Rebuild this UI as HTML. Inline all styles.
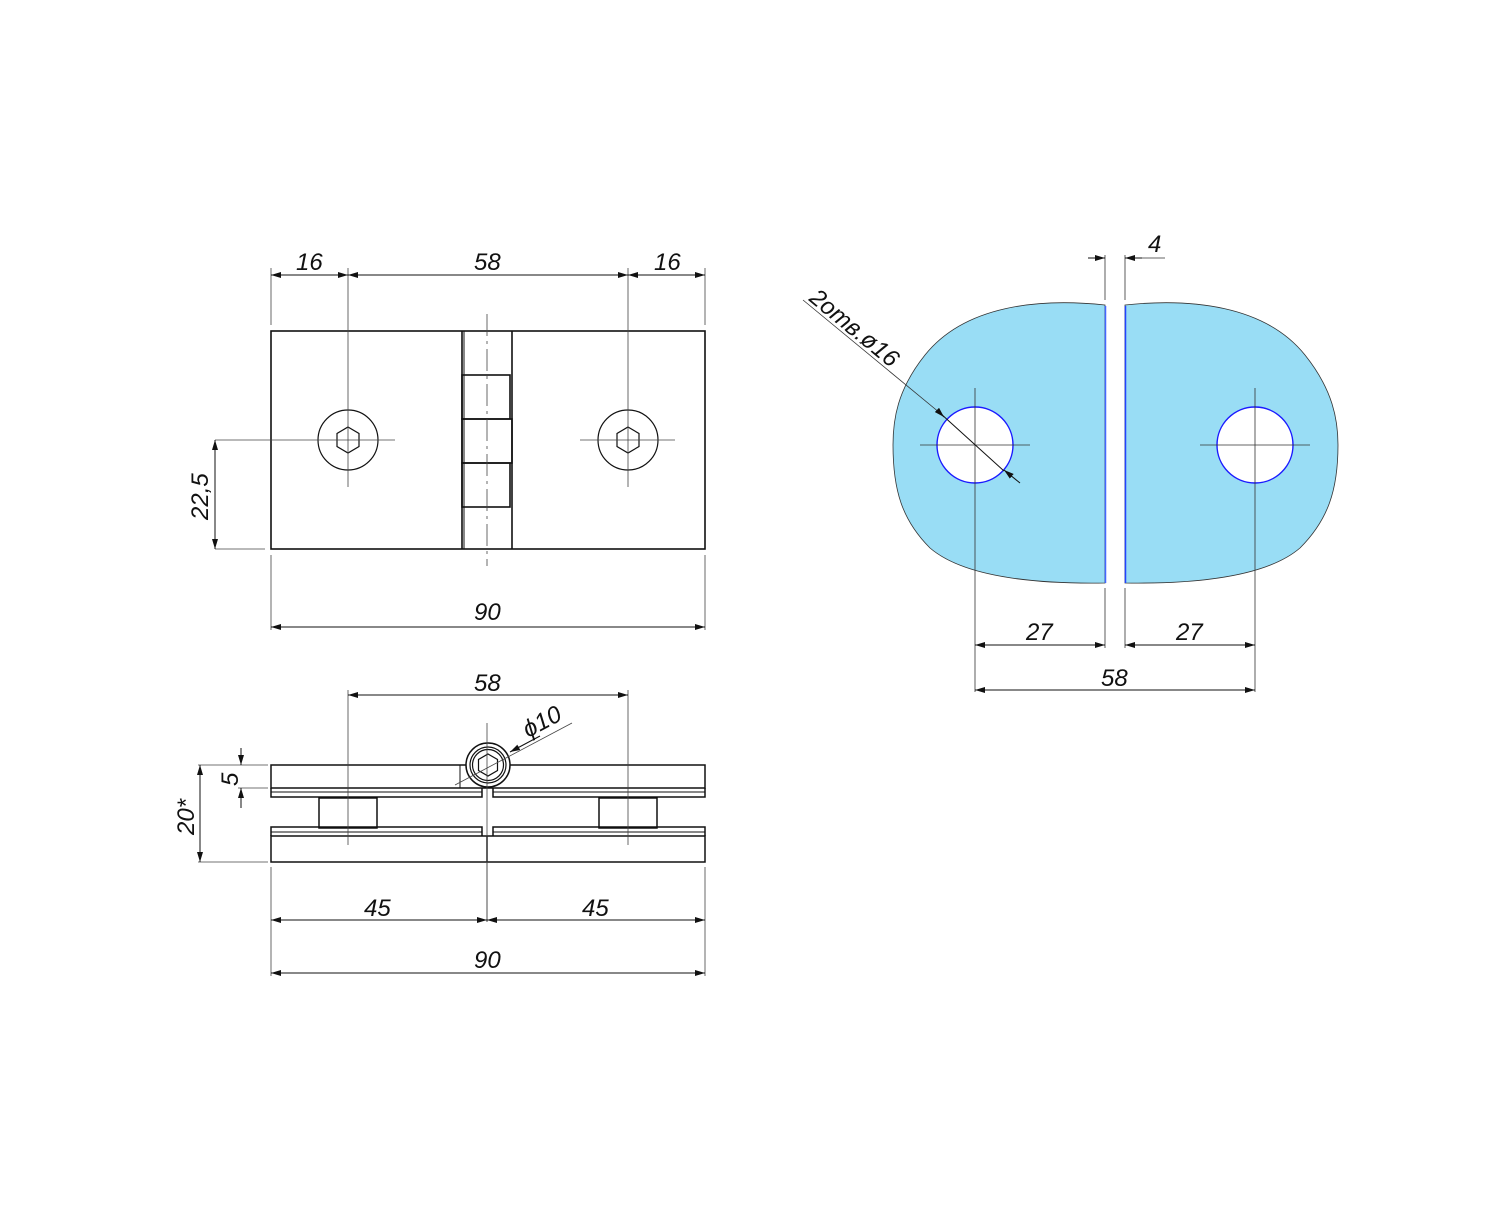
<!DOCTYPE html>
<html><head><meta charset="utf-8"><style>
html,body{margin:0;padding:0;background:#fff;}
svg text{font-family:"Liberation Sans","DejaVu Sans",sans-serif;font-style:italic;font-size:24px;fill:#111;}
</style></head><body>
<svg width="1500" height="1200" viewBox="0 0 1500 1200" xmlns="http://www.w3.org/2000/svg">
<defs>
<marker id="a" viewBox="0 0 10 6" refX="10" refY="3" markerWidth="10" markerHeight="6" orient="auto-start-reverse" markerUnits="userSpaceOnUse"><path d="M0,0 L10,3 L0,6 Z" fill="#111"/></marker>
</defs>
<g fill="none" stroke="#111" stroke-width="1">
<!-- TOP VIEW -->
<g stroke-width="1.6">
<rect x="271" y="331" width="434" height="218"/>
<line x1="462" y1="331" x2="462" y2="549"/>
<line x1="464" y1="331" x2="464" y2="549" stroke-width="1"/>
<line x1="512" y1="331" x2="512" y2="549"/>
<rect x="462" y="375" width="48" height="44"/>
<rect x="462" y="419" width="50" height="44"/>
<rect x="462" y="463" width="48" height="44"/>
<circle cx="348" cy="440" r="30" stroke-width="1.2"/>
<circle cx="628" cy="440" r="30" stroke-width="1.2"/>
<polygon points="348,427 359,433.5 359,446.5 348,453 337,446.5 337,433.5" stroke-width="1.2"/>
<polygon points="628,427 639,433.5 639,446.5 628,453 617,446.5 617,433.5" stroke-width="1.2"/>
</g>
<g stroke="#444" stroke-width="0.8">
<line x1="487" y1="314" x2="487" y2="566" stroke-dasharray="22,5,3,5"/>
<line x1="215" y1="440" x2="395" y2="440"/>
<line x1="580" y1="440" x2="675" y2="440"/>
<line x1="348" y1="268" x2="348" y2="487"/>
<line x1="628" y1="268" x2="628" y2="487"/>
<line x1="271" y1="268" x2="271" y2="325"/>
<line x1="705" y1="268" x2="705" y2="325"/>
<line x1="271" y1="555" x2="271" y2="630"/>
<line x1="705" y1="555" x2="705" y2="630"/>
<line x1="215" y1="549" x2="265" y2="549"/>
</g>
<line x1="271" y1="275" x2="348" y2="275" marker-start="url(#a)" marker-end="url(#a)"/>
<line x1="348" y1="275" x2="628" y2="275" marker-start="url(#a)" marker-end="url(#a)"/>
<line x1="628" y1="275" x2="705" y2="275" marker-start="url(#a)" marker-end="url(#a)"/>
<line x1="271" y1="627" x2="705" y2="627" marker-start="url(#a)" marker-end="url(#a)"/>
<line x1="215" y1="440" x2="215" y2="549" marker-start="url(#a)" marker-end="url(#a)"/>

<!-- SIDE VIEW -->
<g stroke-width="1.5">
<rect x="271" y="765" width="434" height="23"/>
<path d="M271,788 V797 H482 V788 M493,788 V797 H705 V788"/>
<line x1="271" y1="792" x2="482" y2="792" stroke-width="1"/>
<line x1="493" y1="792" x2="705" y2="792" stroke-width="1"/>
<rect x="319" y="798" width="58" height="30"/>
<rect x="599" y="798" width="58" height="30"/>
<path d="M271,836 V827 H482 V836 M493,836 V827 H705 V836"/>
<line x1="271" y1="832" x2="482" y2="832" stroke-width="1"/>
<line x1="493" y1="832" x2="705" y2="832" stroke-width="1"/>
<rect x="271" y="836" width="434" height="26"/>
<line x1="487" y1="836" x2="487" y2="862"/>
<line x1="460" y1="765" x2="460" y2="788" stroke-width="1"/>
<circle cx="488" cy="765" r="22" fill="#fff"/>
<circle cx="488" cy="765" r="18" stroke-width="1.2"/>
<circle cx="488" cy="765" r="15.5" stroke-width="1.2"/>
<polygon points="488,754 497.5,759.5 497.5,770.5 488,776 478.5,770.5 478.5,759.5" stroke-width="1.2"/>
</g>
<g stroke="#444" stroke-width="0.8">
<line x1="487" y1="723" x2="487" y2="922"/>
<line x1="348" y1="690" x2="348" y2="845"/>
<line x1="628" y1="690" x2="628" y2="845"/>
<line x1="238" y1="765" x2="268" y2="765"/>
<line x1="238" y1="788" x2="268" y2="788"/>
<line x1="198" y1="862" x2="268" y2="862"/>
<line x1="198" y1="765" x2="238" y2="765"/>
<line x1="271" y1="867" x2="271" y2="976"/>
<line x1="705" y1="867" x2="705" y2="976"/>
<line x1="487" y1="862" x2="487" y2="922"/>
<line x1="455" y1="785" x2="572" y2="723"/>
</g>
<line x1="348" y1="695" x2="628" y2="695" marker-start="url(#a)" marker-end="url(#a)"/>
<line x1="241" y1="748" x2="241" y2="765" marker-end="url(#a)"/>
<line x1="241" y1="808" x2="241" y2="788" marker-end="url(#a)"/>
<line x1="200" y1="765" x2="200" y2="862" marker-start="url(#a)" marker-end="url(#a)"/>
<line x1="271" y1="920" x2="487" y2="920" marker-start="url(#a)" marker-end="url(#a)"/>
<line x1="487" y1="920" x2="705" y2="920" marker-start="url(#a)" marker-end="url(#a)"/>
<line x1="271" y1="973" x2="705" y2="973" marker-start="url(#a)" marker-end="url(#a)"/>
<line x1="540" y1="736" x2="510" y2="752" marker-end="url(#a)"/>

<!-- RIGHT VIEW -->
<path d="M1105,305 C1040,298 965,305 925,355 C897,390 893,420 893,445 C893,490 902,520 930,548 C965,578 1040,584 1105,583 Z" fill="#99ddf5" stroke="#333" stroke-width="0.8"/>
<path d="M1125,305 C1190,298 1265,305 1305,355 C1333,390 1338,420 1338,445 C1338,490 1328,520 1300,548 C1265,578 1190,584 1125,583 Z" fill="#99ddf5" stroke="#333" stroke-width="0.8"/>
<line x1="1105.5" y1="306" x2="1105.5" y2="583" stroke="#4466ff" stroke-width="1.5"/>
<line x1="1125.5" y1="306" x2="1125.5" y2="583" stroke="#2244ff" stroke-width="1.5"/>
<circle cx="975" cy="445" r="38" fill="#fff" stroke="#1a1aff" stroke-width="1.4"/>
<circle cx="1255" cy="445" r="38" fill="#fff" stroke="#1a1aff" stroke-width="1.4"/>
<g stroke="#333" stroke-width="0.8">
<line x1="920" y1="445" x2="1030" y2="445"/>
<line x1="1200" y1="445" x2="1310" y2="445"/>
<line x1="975" y1="388" x2="975" y2="692"/>
<line x1="1255" y1="388" x2="1255" y2="692"/>
<line x1="1105" y1="255" x2="1105" y2="300"/>
<line x1="1125" y1="255" x2="1125" y2="300"/>
<line x1="1105" y1="588" x2="1105" y2="648"/>
<line x1="1125" y1="588" x2="1125" y2="648"/>
<line x1="803" y1="300" x2="940" y2="413"/>
<line x1="1125" y1="258" x2="1165" y2="258"/>
</g>
<line x1="940" y1="413" x2="944" y2="417" marker-end="url(#a)"/>
<line x1="940" y1="413" x2="1004" y2="471"/>
<line x1="1020" y1="483" x2="1004" y2="470" marker-end="url(#a)"/>
<line x1="1088" y1="258" x2="1105" y2="258" marker-end="url(#a)"/>
<line x1="1142" y1="258" x2="1125" y2="258" marker-end="url(#a)"/>
<line x1="975" y1="645" x2="1105" y2="645" marker-start="url(#a)" marker-end="url(#a)"/>
<line x1="1125" y1="645" x2="1255" y2="645" marker-start="url(#a)" marker-end="url(#a)"/>
<line x1="975" y1="690" x2="1255" y2="690" marker-start="url(#a)" marker-end="url(#a)"/>
</g>
<text x="296" y="270">16</text>
<text x="474" y="270">58</text>
<text x="654" y="270">16</text>
<text x="474" y="620">90</text>
<text transform="translate(208,520) rotate(-90)">22,5</text>
<text x="474" y="691">58</text>
<text transform="translate(528,738) rotate(-28)">ϕ10</text>
<text transform="translate(238,786) rotate(-90)">5</text>
<text transform="translate(194,835) rotate(-90)">20*</text>
<text x="364" y="916">45</text>
<text x="582" y="916">45</text>
<text x="474" y="968">90</text>
<text x="1148" y="252">4</text>
<text x="1026" y="640">27</text>
<text x="1176" y="640">27</text>
<text x="1101" y="686">58</text>
<text transform="translate(808,300) rotate(39.5)">2отв.ø16</text>
</svg>
</body></html>
